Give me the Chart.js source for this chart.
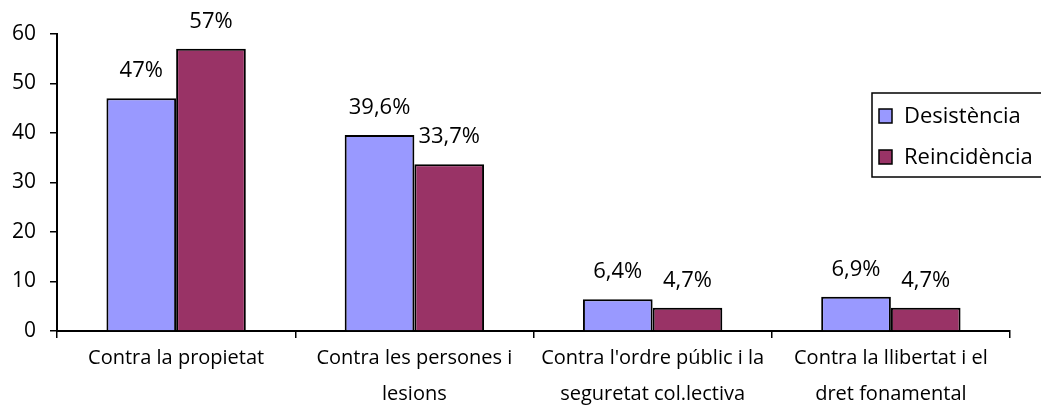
<!DOCTYPE html>
<html>
<head>
<meta charset="utf-8">
<script src="https://cdn.jsdelivr.net/npm/chart.js@4.4.1/dist/chart.umd.min.js"></script>
<style>
  html, body { margin: 0; padding: 0; background: #fff; }
  #wrap { width: 1041px; height: 409px; position: relative; }
</style>
</head>
<body>
<div id="wrap"><canvas id="chart"></canvas></div>
<script>
// data
const categories = [
    "Contra la propietat",
    ["Contra les persones i", "lesions"],
    ["Contra l'ordre públic i la", "seguretat col.lectiva"],
    ["Contra la llibertat i el", "dret fonamental"]
];
const desistencia = [47, 39.6, 6.4, 6.9];
const reincidencia = [57, 33.7, 4.7, 4.7];
const seriesNames = ["Desistència", "Reincidència"];
const yTicks = [0, 10, 20, 30, 40, 50, 60];

const FONT = "'Open Sans', 'Liberation Sans', sans-serif";
const fmt = v => String(v).replace(".", ",") + "%";

// value labels above each bar
const barLabels = {
    id: "barLabels",
    afterDatasetsDraw(chart) {
        const ctx = chart.ctx;
        ctx.save();
        ctx.font = "22px " + FONT;
        ctx.fillStyle = "#000";
        ctx.textAlign = "center";
        ctx.textBaseline = "alphabetic";
        chart.data.datasets.forEach((ds, i) => {
            chart.getDatasetMeta(i).data.forEach((bar, j) => {
                ctx.fillText(fmt(ds.data[j]), bar.x, bar.y - 21);
            });
        });
        ctx.restore();
    }
};

// legend box at right (overlaps the plot edge like the original)
const boxLegend = {
    id: "boxLegend",
    afterDraw(chart) {
        const ctx = chart.ctx;
        ctx.save();
        ctx.lineWidth = 1.5;
        ctx.strokeStyle = "#000";
        ctx.fillStyle = "#fff";
        ctx.fillRect(872, 93, 180, 84);
        ctx.strokeRect(872, 93, 180, 84);
        ctx.font = "22px " + FONT;
        ctx.textBaseline = "middle";
        chart.data.datasets.forEach((ds, i) => {
            const y = 116 + i * 41;
            ctx.fillStyle = ds.backgroundColor;
            ctx.fillRect(879, y - 7, 13, 14);
            ctx.strokeRect(879, y - 7, 13, 14);
            ctx.fillStyle = "#000";
            ctx.fillText(ds.label, 904, y + 1);
        });
        ctx.restore();
    }
};

new Chart(document.getElementById("chart"), {
    type: "bar",
    data: {
        labels: categories,
        datasets: [{
            label: seriesNames[0],
            data: desistencia,
            backgroundColor: "#9999FF",
            borderColor: "#000",
            borderWidth: 2
        }, {
            label: seriesNames[1],
            data: reincidencia,
            backgroundColor: "#993366",
            borderColor: "#000",
            borderWidth: 2
        }]
    },
    options: {
        responsive: true,
        maintainAspectRatio: false,
        animation: false,
        layout: { padding: { top: 34, right: 31, left: 0, bottom: 0 } },
        categoryPercentage: 0.585,
        barPercentage: 1.0,
        plugins: {
            legend: { display: false },
            tooltip: { enabled: false }
        },
        scales: {
            x: {
                grid: { offset: true, drawOnChartArea: false, drawTicks: true, tickLength: 7, color: "#000", lineWidth: 1.5 },
                border: { color: "#000", width: 2 },
                ticks: {
                    color: "#000",
                    font: { family: FONT, size: 20, lineHeight: 1.8 },
                    maxRotation: 0,
                    autoSkip: false,
                    padding: 2
                },
                afterFit(s) { s.height = 78; }
            },
            y: {
                min: yTicks[0],
                max: yTicks[yTicks.length - 1],
                grid: { drawOnChartArea: false, drawTicks: true, tickLength: 7, color: "#000", lineWidth: 1.5 },
                border: { color: "#000", width: 2 },
                ticks: {
                    stepSize: 10,
                    color: "#000",
                    font: { family: FONT, size: 21 },
                    padding: 14
                },
                afterFit(s) { s.width = 57; }
            }
        }
    },
    plugins: [barLabels, boxLegend]
});
</script>
</body>
</html>
